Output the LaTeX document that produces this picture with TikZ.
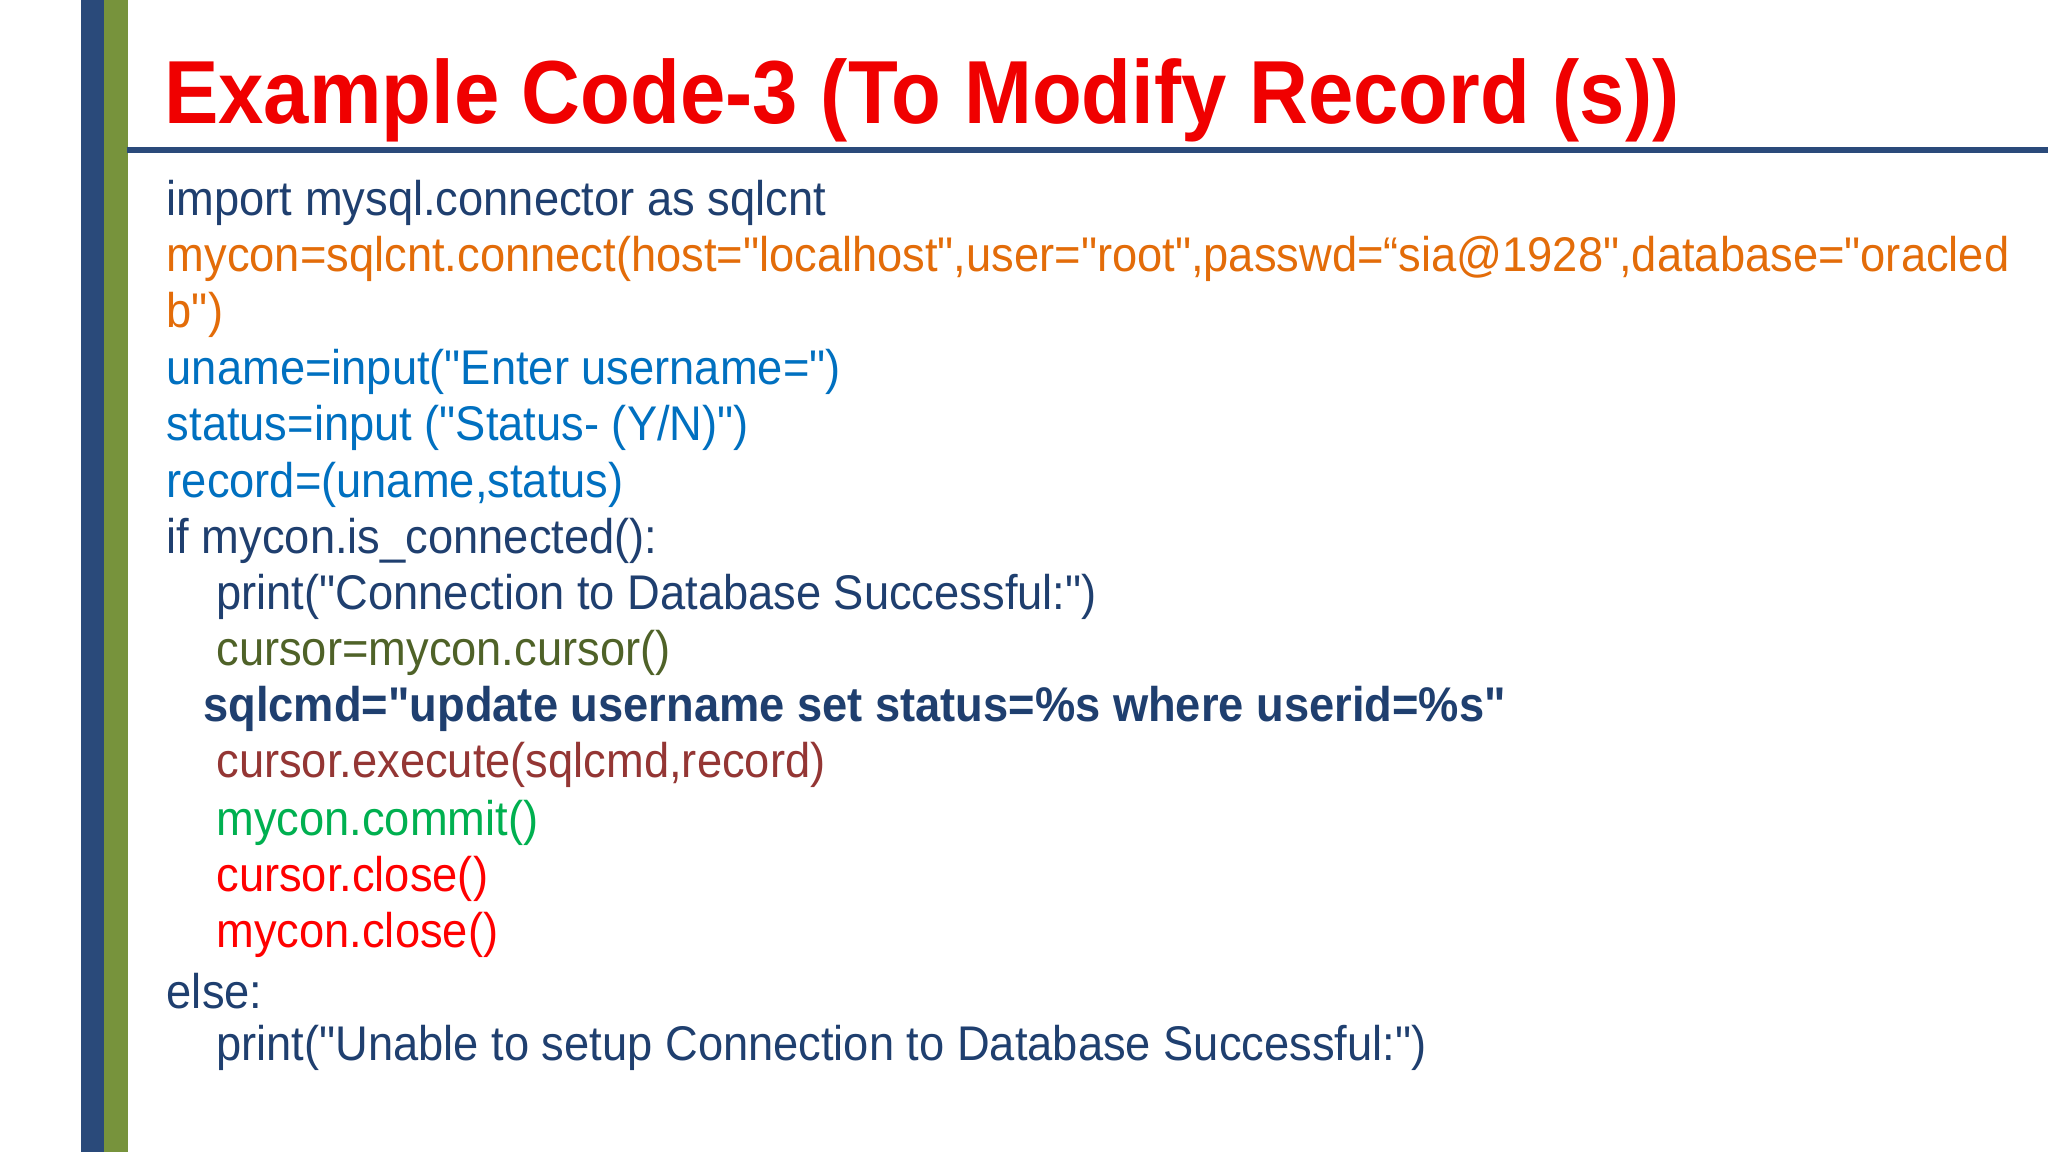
\documentclass[tikz,border=0pt]{standalone}
\usepackage{fontspec}
\setmainfont{Liberation Sans}
\newfontfamily\narrow[FakeStretch=0.93]{Liberation Sans}
\newfontfamily\titlefont[FakeStretch=0.91]{Liberation Sans}
\definecolor{dblue}{HTML}{1F3F6F}
\definecolor{barblue}{HTML}{2A4A7A}
\definecolor{bargreen}{HTML}{77933C}
\definecolor{orng}{HTML}{E36C09}
\definecolor{lblue}{HTML}{0070C0}
\definecolor{olive}{HTML}{4F6228}
\definecolor{brwn}{HTML}{943634}
\definecolor{grn}{HTML}{00B050}
\definecolor{titred}{HTML}{F00000}
\begin{document}
\begin{tikzpicture}[x=0.01cm,y=-0.01cm,
  code/.style={anchor=west,inner sep=0pt,font=\narrow\fontsize{10.6pt}{12pt}\selectfont}]
\useasboundingbox (0,0) rectangle (1568,882);
\fill[white] (0,0) rectangle (1568,882);
\fill[barblue] (62,0) rectangle (80,882);
\fill[bargreen] (80,0) rectangle (98,882);
\draw[barblue,line width=1.3pt] (97,115) -- (1568,115);
\node[anchor=west,inner sep=0pt,text=titred,font=\titlefont\bfseries\fontsize{19.5pt}{22pt}\selectfont] (title) at (125,77) {Example Code-3 (To Modify Record (s))};
\node[code,text=dblue] (l1) at (127,155) {import mysql.connector as sqlcnt};
\node[code,text=orng] (l2) at (127,198) {mycon=sqlcnt.connect(host="localhost",user="root",passwd=“sia@1928",database="oracled};
\node[code,text=orng] (l3) at (127,241) {b")};
\node[code,text=lblue] (l4) at (127,285) {uname=input("Enter username=")};
\node[code,text=lblue] (l5) at (127,328) {status=input ("Status- (Y/N)")};
\node[code,text=lblue] (l6) at (127,371) {record=(uname,status)};
\node[code,text=dblue] (l7) at (127,414) {if mycon.is\_connected():};
\node[code,text=dblue] (l8) at (165,457) {print("Connection to Database Successful:")};
\node[code,text=olive] (l9) at (165,500) {cursor=mycon.cursor()};
\node[code,text=dblue,font=\narrow\bfseries\fontsize{10.6pt}{12pt}\selectfont] (l10) at (155,543) {sqlcmd="update username set status=\%s where userid=\%s"};
\node[code,text=brwn] (l11) at (165,586) {cursor.execute(sqlcmd,record)};
\node[code,text=grn] (l12) at (165,630) {mycon.commit()};
\node[code,text=red] (l13) at (165,673) {cursor.close()};
\node[code,text=red] (l14) at (165,716) {mycon.close()};
\node[code,text=dblue] (l15) at (127,759) {else:};
\node[code,text=dblue] (l16) at (165,802) {print("Unable to setup Connection to Database Successful:")};
\end{tikzpicture}
\end{document}
